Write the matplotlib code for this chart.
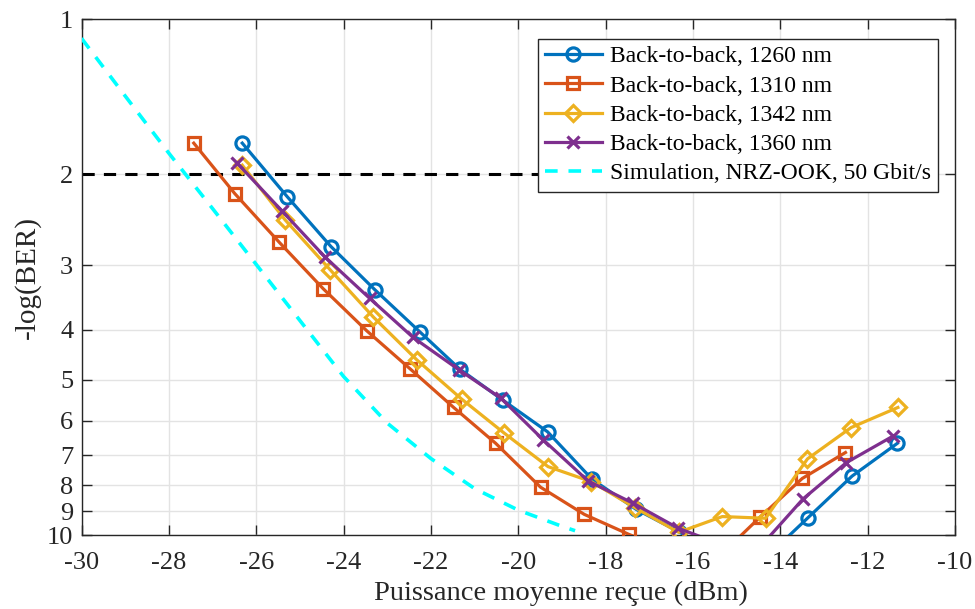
import matplotlib
matplotlib.use("Agg")
import matplotlib.pyplot as plt
from matplotlib.ticker import FixedLocator, NullLocator, FixedFormatter

plt.rcParams['font.family'] = ['Liberation Serif', 'DejaVu Serif']

# Data (received power in dBm, -log(BER))
x_1260 = [-26.32, -25.29, -24.29, -23.28, -22.24, -21.34, -20.35, -19.33, -18.31, -17.30, -16.33, -15.33, -14.35, -13.37, -12.36, -11.32]
y_1260 = [1.74, 2.21, 2.76, 3.35, 4.05, 4.77, 5.48, 6.31, 7.80, 8.92, 9.85, 11.0, 11.1, 9.26, 7.69, 6.64]

x_1310 = [-27.43, -26.49, -25.47, -24.47, -23.47, -22.47, -21.48, -20.52, -19.49, -18.49, -17.47, -16.47, -15.47, -14.47, -13.50, -12.51]
y_1310 = [1.74, 2.18, 2.71, 3.33, 4.02, 4.77, 5.66, 6.64, 8.08, 9.12, 9.97, 10.8, 11.15, 9.24, 7.77, 6.92]

x_1342 = [-26.32, -25.34, -24.31, -23.32, -22.32, -21.30, -20.33, -19.32, -18.33, -17.33, -16.33, -15.33, -14.34, -13.38, -12.38, -11.31]
y_1342 = [1.92, 2.45, 3.06, 3.78, 4.58, 5.45, 6.34, 7.37, 7.88, 8.85, 9.88, 9.21, 9.28, 7.12, 6.19, 5.66]

x_1360 = [-26.43, -25.40, -24.43, -23.40, -22.41, -21.35, -20.40, -19.43, -18.40, -17.37, -16.34, -15.40, -14.40, -13.48, -12.49, -11.42]
y_1360 = [1.905, 2.36, 2.89, 3.48, 4.14, 4.79, 5.43, 6.54, 7.86, 8.68, 9.70, 10.4, 10.4, 8.51, 7.24, 6.43]

x_sim = [-30, -29, -28, -27, -26, -25, -24, -23, -22, -21, -20, -19, -18.7]
y_sim = [1.09, 1.41, 1.82, 2.33, 2.99, 3.84, 4.93, 6.07, 7.11, 8.13, 8.95, 9.62, 9.81]

fec_limit = 2
labels = ['Back-to-back, 1260 nm', 'Back-to-back, 1310 nm', 'Back-to-back, 1342 nm',
          'Back-to-back, 1360 nm', 'Simulation, NRZ-OOK, 50 Gbit/s']
xticks = [-30, -28, -26, -24, -22, -20, -18, -16, -14, -12, -10]
yticks = [1, 2, 3, 4, 5, 6, 7, 8, 9, 10]

fig = plt.figure(figsize=(9.75, 6.09), dpi=100)
ax = fig.add_axes([0.0836, 0.1215, 0.896, 0.8473])

ax.plot([-30, -12], [fec_limit, fec_limit], color='black', lw=2.2, ls=(0, (4, 3)), zorder=2)

lw = 2.3
h1, = ax.plot(x_1260, y_1260, color='#0072BD', lw=lw, marker='o', ms=9.5, mfc='none', mew=2.3, label=labels[0], zorder=3)
h2, = ax.plot(x_1310, y_1310, color='#D95319', lw=lw, marker='s', ms=8, mfc='none', mew=2.3, label=labels[1], zorder=3)
h3, = ax.plot(x_1342, y_1342, color='#EDB120', lw=lw, marker='D', ms=8, mfc='none', mew=2.3, label=labels[2], zorder=3)
h4, = ax.plot(x_1360, y_1360, color='#7E2F8E', lw=lw, marker='x', ms=8, mew=2.3, label=labels[3], zorder=3)
h5, = ax.plot(x_sim, y_sim, color='#00FFFF', lw=2.6, ls=(0, (3.5, 3)), label=labels[4], zorder=3)

ax.set_yscale('log')
ax.set_xlim(-30, -10)
ax.set_ylim(10, 1)
ax.yaxis.set_major_locator(FixedLocator(yticks))
ax.yaxis.set_major_formatter(FixedFormatter([str(t) for t in yticks]))
ax.yaxis.set_minor_locator(NullLocator())
ax.set_xticks(xticks)
ax.set_xticklabels([str(t) for t in xticks])

ax.grid(True, color='#e3e3e3', lw=1.0)
ax.set_axisbelow(True)
for s in ax.spines.values():
    s.set_color('#262626')
    s.set_linewidth(1.0)
ax.tick_params(axis='both', direction='in', length=7, width=1.0, labelsize=19, colors='#262626',
               top=True, right=True, pad=6)
ax.tick_params(axis='x', pad=12.5)
for lab in ax.get_xticklabels() + ax.get_yticklabels():
    lab.set_color('#262626')

ax.set_xlabel('Puissance moyenne reçue (dBm)', fontsize=20.5, color='#262626')
ax.xaxis.set_label_coords(0.549, -0.113)
ax.xaxis.label.set_va('center')
ax.set_ylabel('-log(BER)', fontsize=21, color='#262626', labelpad=4)

leg = ax.legend(handles=[h1, h2, h3, h4, h5], loc='upper right', bbox_to_anchor=(0.9805, 0.962),
                fontsize=17, frameon=True, fancybox=False, framealpha=1, edgecolor='#262626',
                handlelength=2.4, handletextpad=0.35, borderpad=0.3, labelspacing=0.33,
                borderaxespad=0)
leg.get_frame().set_linewidth(1.0)
leg.set_zorder(5)

fig.savefig('out.png', dpi=100)
